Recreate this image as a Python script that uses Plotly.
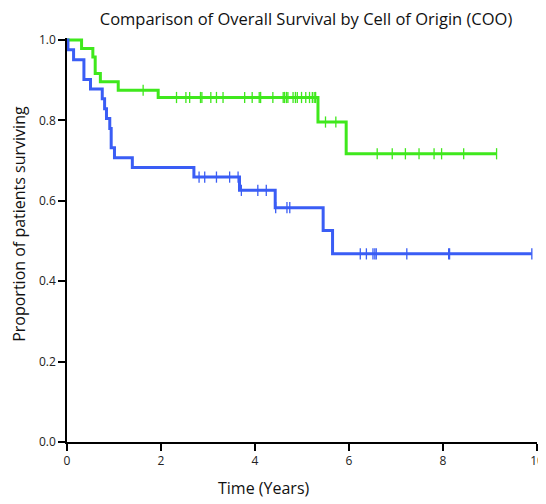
import numpy as np
import plotly.graph_objects as go

# ---- data ----
title_text = "Comparison of Overall Survival by Cell of Origin (COO)"
x_title = "Time (Years)"
y_title = "Proportion of patients surviving"

# Green group: event (step) times and survival after each step
green_times = [0.0, 0.31, 0.55, 0.60, 0.71, 1.09, 1.94, 5.34, 5.94]
green_surv = [1.0, 0.979, 0.958, 0.917, 0.896, 0.875, 0.857, 0.796, 0.717]
green_end = 9.14
green_censor = [1.62, 2.33, 2.53, 2.61, 2.84, 2.87, 3.06, 3.18, 3.32, 3.78, 3.94,
                4.09, 4.12, 4.38, 4.60, 4.63, 4.67, 4.70, 4.81, 4.86, 4.90, 4.99,
                5.08, 5.16, 5.22, 5.26, 5.29, 5.50, 5.72, 6.60, 6.92, 7.20, 7.49,
                7.81, 7.97, 8.44, 9.14]

# Blue group
blue_times = [0.0, 0.02, 0.14, 0.36, 0.50, 0.75, 0.80, 0.84, 0.91, 0.94, 1.01,
              1.39, 2.70, 3.67, 4.43, 5.45, 5.65]
blue_surv = [1.0, 0.976, 0.951, 0.902, 0.878, 0.854, 0.829, 0.805, 0.780, 0.732,
             0.707, 0.683, 0.659, 0.626, 0.583, 0.526, 0.468]
blue_end = 9.89
blue_censor = [2.81, 2.93, 3.18, 3.46, 3.64, 3.71, 4.06, 4.24, 4.44, 4.68, 4.74,
               6.24, 6.37, 6.51, 6.55, 6.58, 7.23, 8.12, 8.14, 9.89]

x_ticks = [0, 2, 4, 6, 8, 10]
y_ticks = [0.0, 0.2, 0.4, 0.6, 0.8, 1.0]

GREEN = "#3fe81c"
BLUE = "#3a5df5"

# page body margin (8px) offsets the figure; compensate in size/margins
W, H = 538, 496


def step_value(times, surv, t):
    idx = np.searchsorted(np.array(times), t, side="right") - 1
    return [surv[i] for i in idx]


fig = go.Figure()
for times, surv, end, cens, col in [
    (green_times, green_surv, green_end, green_censor, GREEN),
    (blue_times, blue_surv, blue_end, blue_censor, BLUE),
]:
    xs = list(times) + [end]
    ys = list(surv) + [surv[-1]]
    fig.add_trace(go.Scatter(x=xs, y=ys, mode="lines", line=dict(color=col, width=3, shape="hv"),
                             showlegend=False, hoverinfo="skip"))
    fig.add_trace(go.Scatter(x=cens, y=step_value(times, surv, cens), mode="markers",
                             marker=dict(symbol="line-ns", size=8, line=dict(color=col, width=1.3)),
                             showlegend=False, cliponaxis=False))

axis_common = dict(showgrid=False, zeroline=False, showline=True, linecolor="black", linewidth=1.6,
                   ticks="outside", ticklen=7, tickwidth=1.5, tickcolor="black", automargin=False,
                   ticklabeloverflow="allow",
                   tickfont=dict(family="Open Sans", size=12, color="#222"))

fig.update_xaxes(range=[0, 10], tickvals=x_ticks, ticktext=[str(v) for v in x_ticks], **axis_common)
fig.update_yaxes(range=[0, 1.005], tickvals=y_ticks, ticktext=[f"{v:.1f}" for v in y_ticks], **axis_common)

fig.update_layout(
    width=W, height=H,
    margin=dict(l=59, r=9, t=30, b=62),
    plot_bgcolor="white", paper_bgcolor="white",
    title=dict(text=title_text, x=298 / W, xanchor="center", y=1 - 11 / H, yanchor="middle",
               font=dict(family="Open Sans", size=16.5, color="#111")),
    annotations=[
        dict(text=x_title, xref="paper", yref="paper", x=0.42, y=0, yshift=-46, showarrow=False,
             xanchor="center", yanchor="middle", font=dict(family="Open Sans", size=16, color="#111")),
        dict(text=y_title, xref="paper", yref="paper", x=0, xshift=-48, y=0.54, showarrow=False,
             textangle=-90, xanchor="center", yanchor="middle",
             font=dict(family="Open Sans", size=16, color="#111")),
    ],
)

fig.write_html("out.html")
